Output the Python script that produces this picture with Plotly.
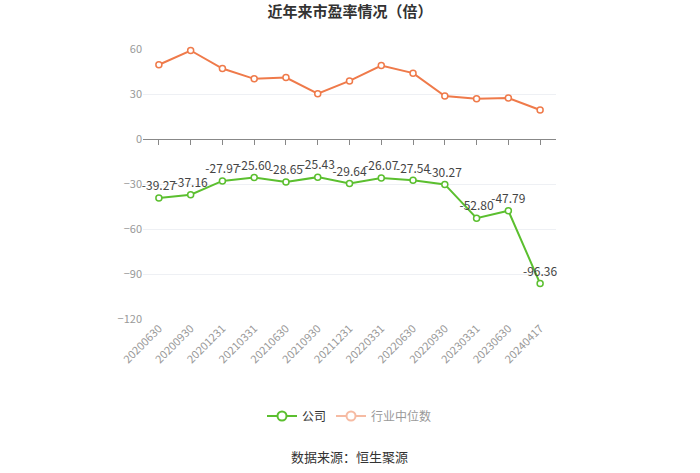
import plotly.graph_objects as go

dates = ["20200630", "20200930", "20201231", "20210331", "20210630", "20210930",
         "20211231", "20220331", "20220630", "20220930", "20230331", "20230630", "20240417"]
company = [-39.27, -37.16, -27.97, -25.60, -28.65, -25.43, -29.64, -26.07, -27.54,
           -30.27, -52.80, -47.79, -96.36]
industry = [49.5, 59.0, 47.0, 40.1, 41.0, 30.2, 38.7, 49.0, 43.9, 28.7, 26.9, 27.3, 19.3]
yticks = [-120, -90, -60, -30, 0, 30, 60]

GREEN = "#5bbf2f"
ORANGE = "#ef7a4a"
FONT = "Noto Sans CJK SC"

fig = go.Figure()

fig.add_trace(go.Scatter(
    x=dates, y=industry, mode="lines+markers", name="行业中位数",
    line=dict(color=ORANGE, width=2),
    marker=dict(symbol="circle", size=6, color="white", line=dict(color=ORANGE, width=1.5)),
    showlegend=False, cliponaxis=False,
))
fig.add_trace(go.Scatter(
    x=dates, y=company, mode="lines+markers+text", name="公司",
    line=dict(color=GREEN, width=2),
    marker=dict(symbol="circle", size=6, color="white", line=dict(color=GREEN, width=1.5)),
    text=[f"{v:.2f}" for v in company], textposition="top center",
    textfont=dict(size=12, color="#444", family=FONT),
    showlegend=False, cliponaxis=False,
))
# legend entries
fig.add_trace(go.Scatter(
    x=[None], y=[None], mode="lines+markers", name="公司",
    line=dict(color=GREEN, width=2),
    marker=dict(symbol="circle", size=9, color="white", line=dict(color=GREEN, width=2)),
))
fig.add_trace(go.Scatter(
    x=[None], y=[None], mode="lines+markers",
    name='<span style="color:#999">行业中位数</span>',
    line=dict(color=ORANGE, width=2), opacity=0.5,
    marker=dict(symbol="circle", size=9, color="white", line=dict(color=ORANGE, width=2)),
))
# axis line at zero with ticks
fig.add_trace(go.Scatter(x=[0], y=[None], xaxis="x2", showlegend=False, hoverinfo="skip"))

fig.update_layout(
    width=700, height=473,
    margin=dict(l=143, r=144, t=49, b=154),
    paper_bgcolor="white", plot_bgcolor="white",
    font=dict(family=FONT, color="#333"),
    title=dict(text="<b>近年来市盈率情况（倍）</b>", x=0.5, xanchor="center",
               y=1 - 12 / 473, yanchor="middle", font=dict(size=15, color="#333", family=FONT)),
    xaxis=dict(type="category", categoryorder="array", categoryarray=dates,
               range=[-0.5, len(dates) - 0.5],
               showgrid=False, showline=False, ticks="", tickangle=-45,
               tickfont=dict(size=11, color="#999", family=FONT), zeroline=False),
    xaxis2=dict(overlaying="x", anchor="free", position=120 / 180,
                range=[-0.5, len(dates) - 0.5], tickvals=list(range(len(dates))),
                showticklabels=False, showline=True, linecolor="#888", linewidth=1,
                ticks="outside", ticklen=5, tickcolor="#888", showgrid=False, zeroline=False),
    yaxis=dict(range=[-120, 60], tickvals=yticks, showgrid=True, gridcolor="#eef0f4",
               zeroline=False, showline=False, ticks="",
               tickfont=dict(size=11, color="#999", family=FONT)),
    legend=dict(orientation="h", x=0.5, xanchor="center", y=(319 - 416) / 270, yanchor="middle",
                font=dict(size=12, color="#333", family=FONT), itemwidth=30),
    annotations=[dict(text="数据来源：恒生聚源", x=0.5, xref="paper", xanchor="center",
                      y=(319 - 456) / 270, yref="paper", yanchor="middle", showarrow=False,
                      font=dict(size=13, color="#333", family=FONT))],
)

fig.write_html("out.html")
